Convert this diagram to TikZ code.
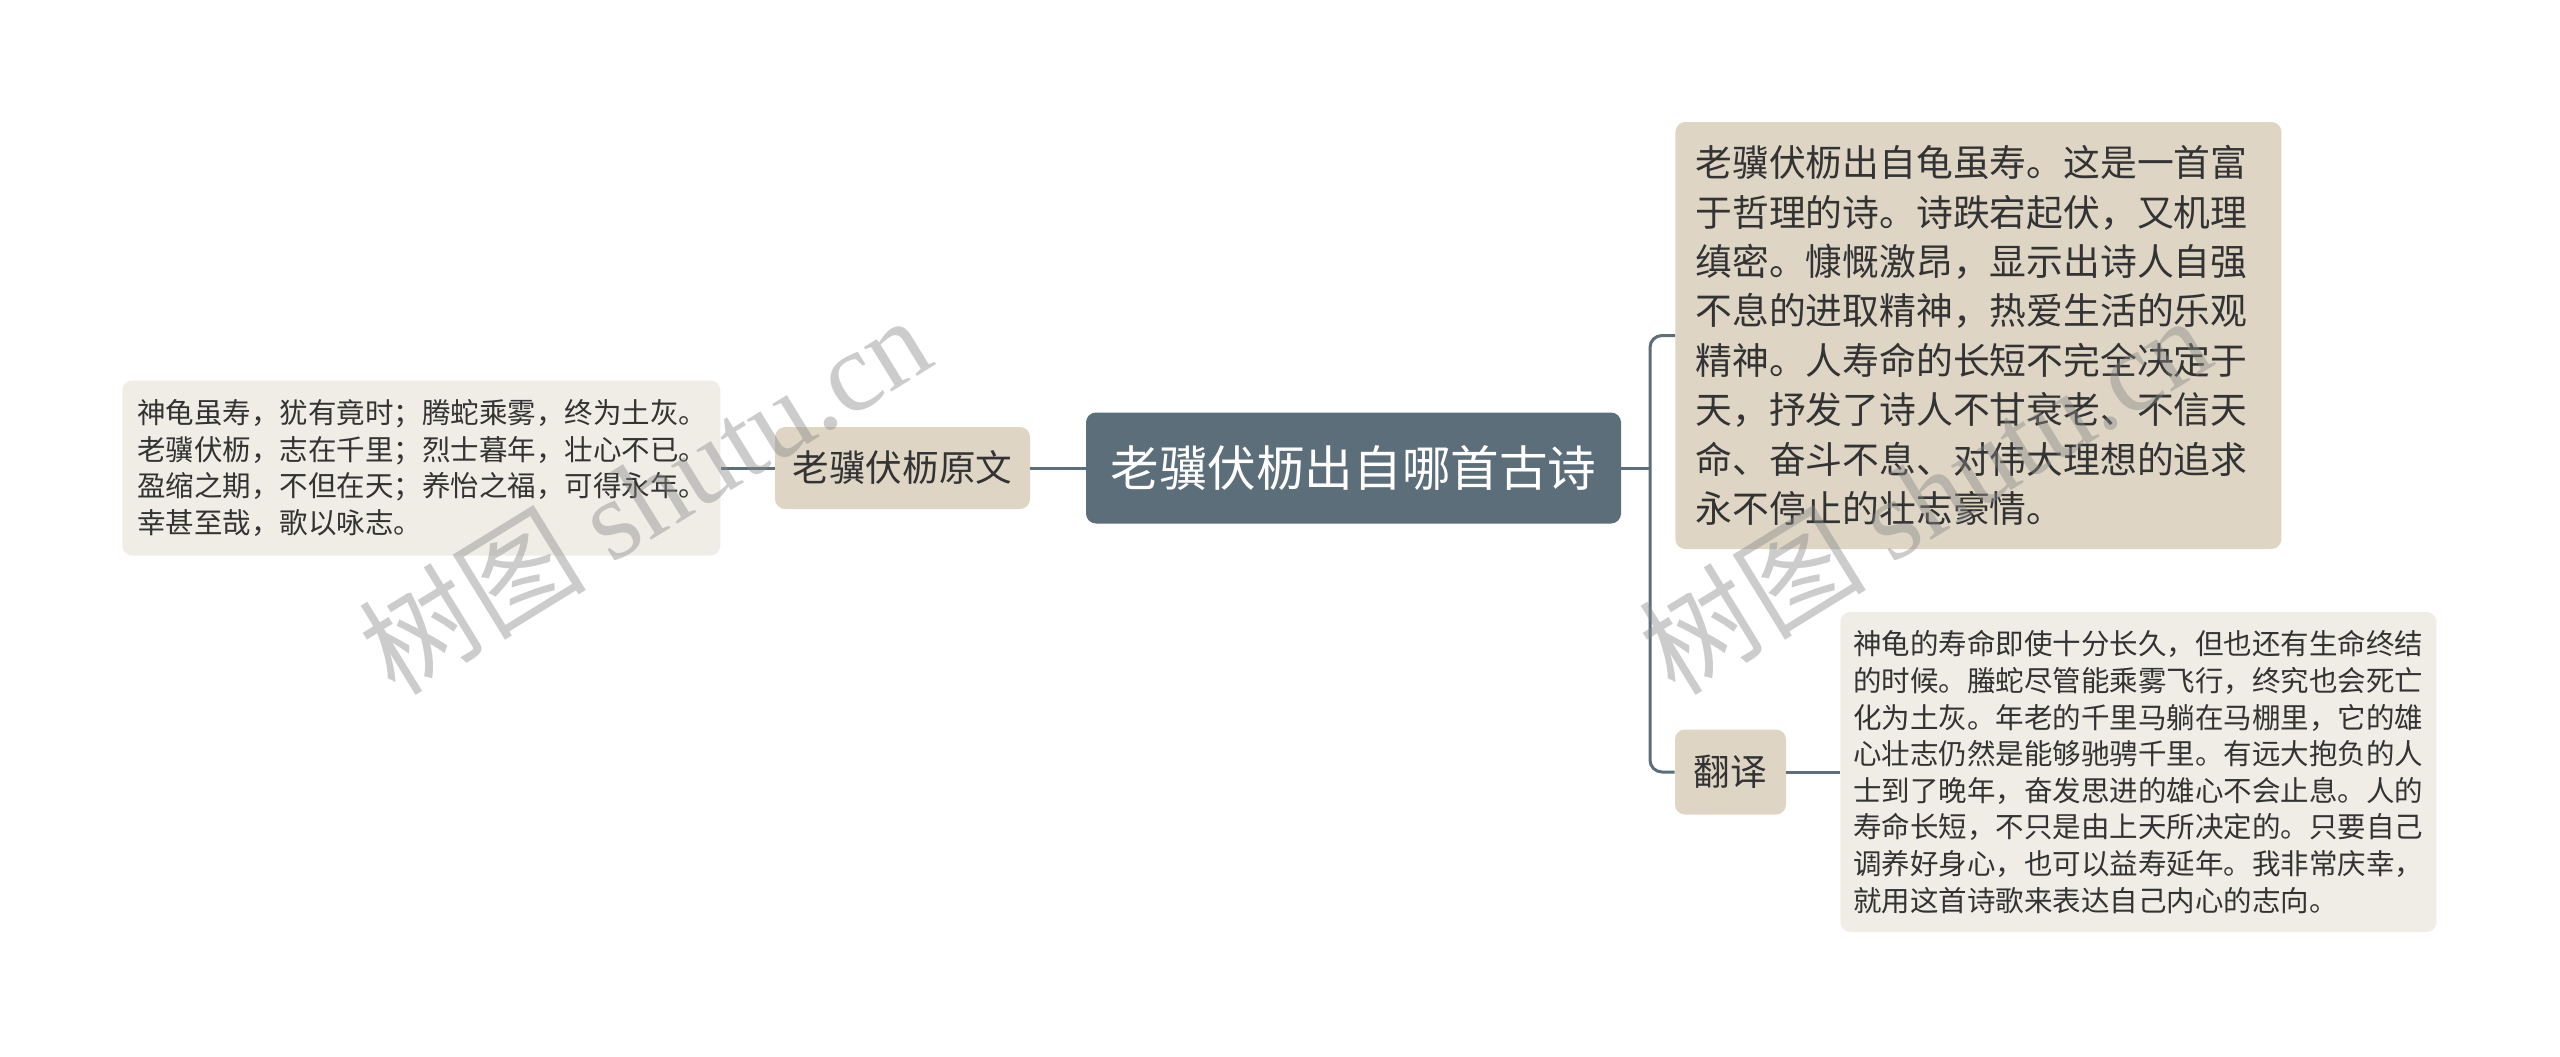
\documentclass[tikz,border=0pt]{standalone}
\usepackage{fontspec}
\setmainfont{Noto Sans CJK SC}
\newfontfamily\wmlatin{Liberation Serif}
\definecolor{slate}{HTML}{5C6E7A}
\definecolor{beige}{HTML}{DED5C5}
\definecolor{leaf}{HTML}{F0EDE6}
\definecolor{ink}{HTML}{333333}
\begin{document}
\begin{tikzpicture}[x=0.5pt,y=-0.5pt,
  box/.style={rounded corners=5pt, inner ysep=0pt, text=ink, align=left},
  rootbox/.style={box, fill=slate, text=white, align=center, minimum width=267.5pt, minimum height=55.5pt, font=\fontsize{24.3pt}{29pt}\selectfont},
  lvlone/.style={box, fill=beige, align=center, font=\fontsize{18.3pt}{22pt}\selectfont},
  bigleaf/.style={box, fill=beige, anchor=west, inner xsep=10pt, text width=283pt, minimum height=213.5pt, font=\fontsize{18.4pt}{24.7pt}\selectfont},
  smallleaf/.style={box, fill=leaf, anchor=west, font=\fontsize{14.25pt}{18.3pt}\selectfont},
  conn/.style={draw=slate, line width=1.5pt, rounded corners=6pt},
  wm/.style={rotate=31.6, text=black!47, opacity=0.42, font=\fontsize{57pt}{57pt}\selectfont}
]
\useasboundingbox (0,0) rectangle (2560,1056);
\fill[white] (0,0) rectangle (2560,1056);

% root
\node[rootbox] (root) at (1353.5,468) {老骥伏枥出自哪首古诗};

% left branch
\node[lvlone, minimum width=127.5pt, minimum height=41pt] (orig) at (902.5,468) {老骥伏枥原文};
\node[smallleaf, inner xsep=7.5pt, text width=284pt, minimum height=87.5pt] (poem) at (122,468) {神龟虽寿，犹有竟时；腾蛇乘雾，终为土灰。\\老骥伏枥，志在千里；烈士暮年，壮心不已。\\盈缩之期，不但在天；养怡之福，可得永年。\\幸甚至哉，歌以咏志。};

% right branch
\node[bigleaf] (note) at (1675,335.5) {老骥伏枥出自龟虽寿。这是一首富\\于哲理的诗。诗跌宕起伏，又机理\\缜密。慷慨激昂，显示出诗人自强\\不息的进取精神，热爱生活的乐观\\精神。人寿命的长短不完全决定于\\天，抒发了诗人不甘衰老、不信天\\命、奋斗不息、对伟大理想的追求\\永不停止的壮志豪情。};
\node[lvlone, minimum width=55.5pt, minimum height=42.5pt] (trans) at (1730.5,772) {翻译};
\node[smallleaf, inner xsep=6.5pt, text width=285pt, minimum height=160pt] (transtext) at (1840,772) {神龟的寿命即使十分长久，但也还有生命终结\\的时候。螣蛇尽管能乘雾飞行，终究也会死亡\\化为土灰。年老的千里马躺在马棚里，它的雄\\心壮志仍然是能够驰骋千里。有远大抱负的人\\士到了晚年，奋发思进的雄心不会止息。人的\\寿命长短，不只是由上天所决定的。只要自己\\调养好身心，也可以益寿延年。我非常庆幸，\\就用这首诗歌来表达自己内心的志向。};

% connectors
\coordinate (trunk) at (1650,468);
\draw[conn] (root.east) -- (trunk);
\draw[conn] (trunk) |- (note.west);
\draw[conn] (trunk) |- (trans.west);
\draw[conn] (trans.east) -- (transtext.west);
\draw[conn] (root.west) -- (orig.east);
\draw[conn] (orig.west) -- (poem.east);

% watermarks
\node[wm] (wmone) at (644,494) {树图 {\wmlatin shutu.cn}};
\node[wm] (wmtwo) at (1924,494) {树图 {\wmlatin shutu.cn}};
\end{tikzpicture}
\end{document}
